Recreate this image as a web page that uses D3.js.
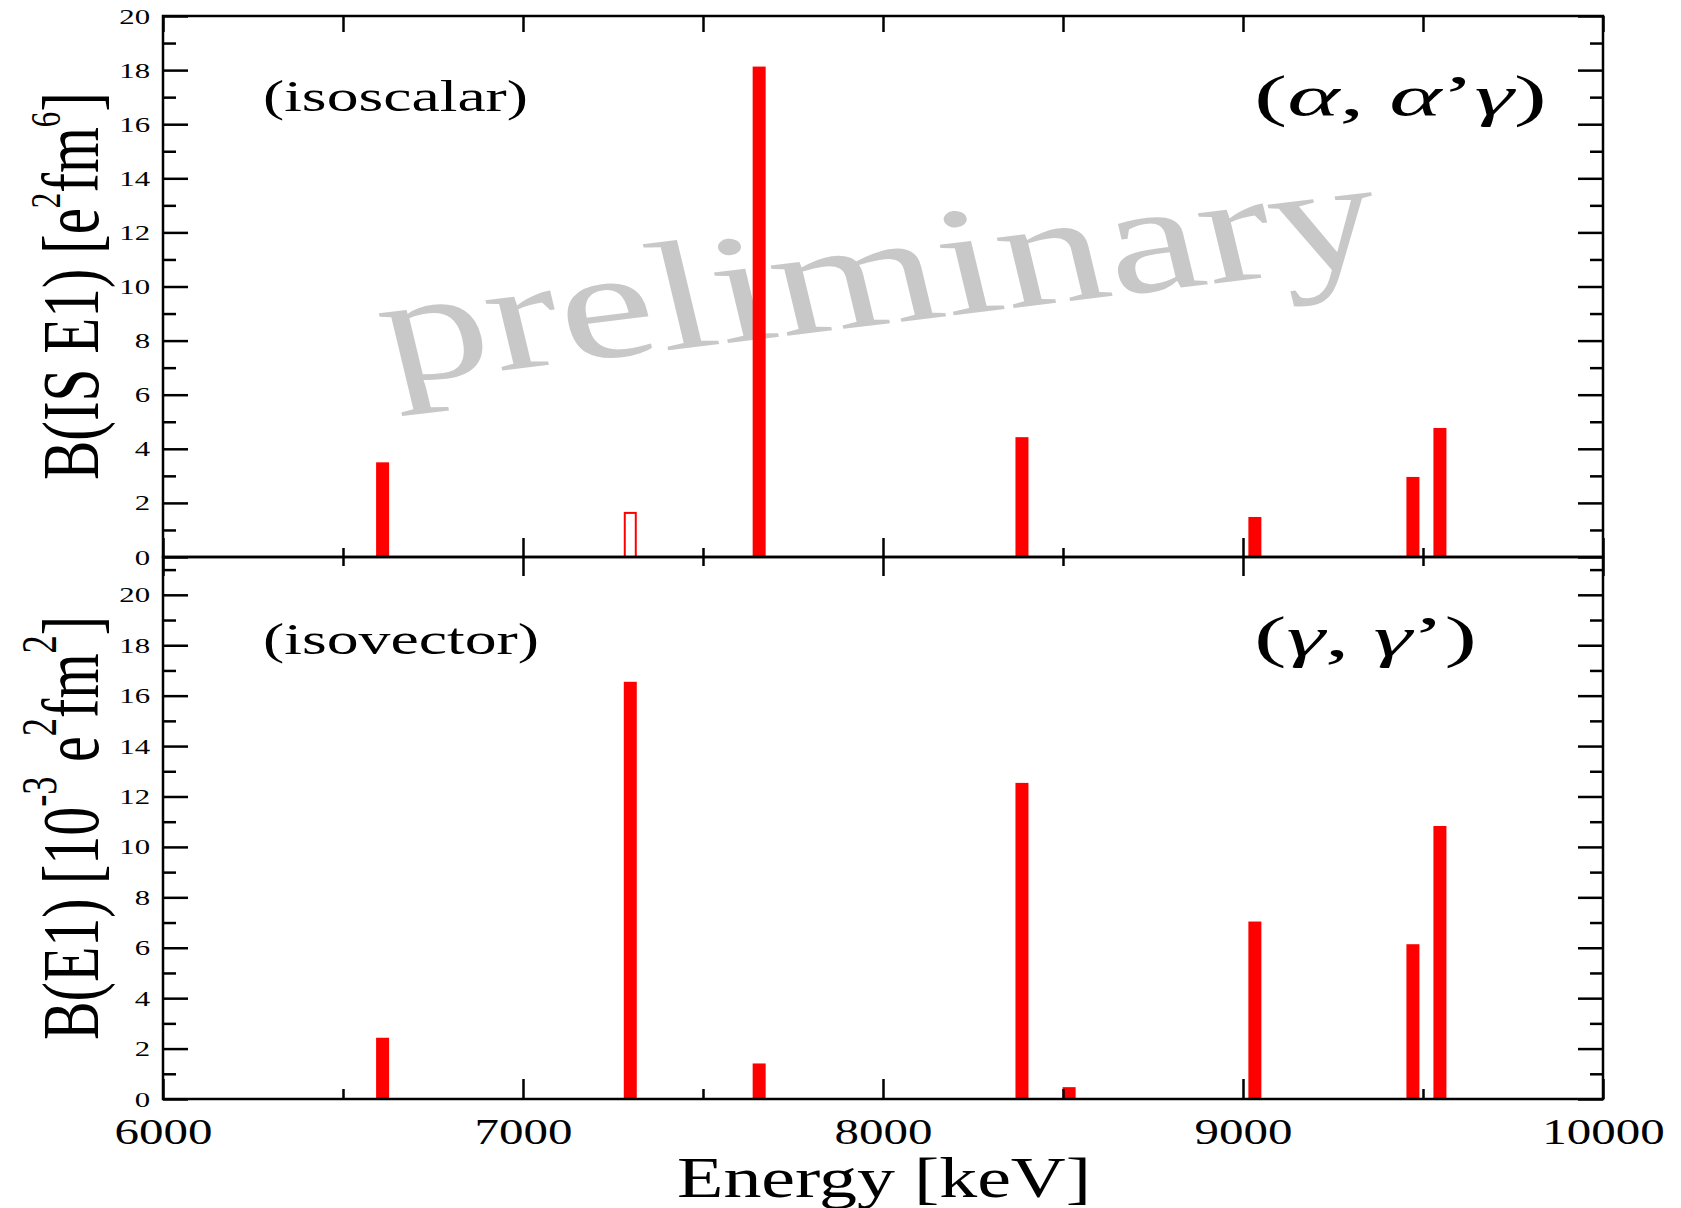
<!DOCTYPE html>
<html>
<head>
<meta charset="utf-8">
<script src="https://cdn.jsdelivr.net/npm/d3@7"></script>
<style>
  body { margin: 0; background: #fff; }
  svg { display: block; }
  text { font-family: "Liberation Serif", "Times New Roman", serif; fill: #000; }
</style>
</head>
<body>
<svg id="chart"></svg>
<script>
// level energies (keV) shared by both panels
const energies = [6610, 7298, 7656, 8386, 8517, 9033, 9472, 9547];
// B(IS E1) in e^2 fm^6 (null = not observed)
const isoscalarValues = [3.5, 1.63, 18.13, 4.43, null, 1.48, 2.96, 4.77];
// open bar = upper limit only
const isoscalarLimit = [false, true, false, false, false, false, false, false];
// B(E1) in 10^-3 e^2 fm^2
const isovectorValues = [2.43, 16.55, 1.41, 12.54, 0.47, 7.04, 6.14, 10.83];

const xMajorTicks = [6000, 7000, 8000, 9000, 10000];
const xMinorTicks = [6500, 7500, 8500, 9500];
const yMajorTicks = [0, 2, 4, 6, 8, 10, 12, 14, 16, 18, 20];
const yMinorTicks = [1, 3, 5, 7, 9, 11, 13, 15, 17, 19, 21];

const width = 1681;
const height = 1208;
const plotLeft = 163, plotRight = 1603, plotTop = 16, midY = 557, bottomY = 1099;
const stretch = 1.4;   // the original figure is stretched sideways
const barW = 13;
const red = '#ff0000';

const svg = d3.select('#chart')
    .attr('width', width)
    .attr('height', height);

const x = d3.scaleLinear().domain([6000, 10000]).range([plotLeft, plotRight]);
const yTop = d3.scaleLinear().domain([0, 20]).range([midY, plotTop]);
const yBot = d3.scaleLinear().domain([0, 21.5]).range([bottomY, midY]);

// watermark
svg.append('text')
    .attr('transform', `translate(391,384) scale(${stretch},1) rotate(-9.7)`)
    .attr('font-size', 155)
    .style('fill', '#c8c8c8')
    .text('preliminary');

function drawBars(yScale, values, limits) {
    const rows = energies
        .map((e, i) => ({ e: e, v: values[i], lim: limits ? limits[i] : false }))
        .filter((d) => d.v != null);

    const g = svg.append('g').attr('class', 'bars');
    g.selectAll('rect.solid')
        .data(rows.filter((d) => !d.lim))
        .enter()
        .append('rect')
        .attr('class', 'solid')
        .attr('x', (d) => x(d.e) - barW / 2)
        .attr('y', (d) => yScale(d.v))
        .attr('width', barW)
        .attr('height', (d) => yScale(0) - yScale(d.v))
        .style('fill', red);

    g.selectAll('rect.open')
        .data(rows.filter((d) => d.lim))
        .enter()
        .append('rect')
        .attr('class', 'open')
        .attr('x', (d) => x(d.e) - barW / 2 + 1)
        .attr('y', (d) => yScale(d.v))
        .attr('width', barW - 2)
        .attr('height', (d) => yScale(0) - yScale(d.v))
        .style('fill', 'none')
        .style('stroke', red)
        .style('stroke-width', 2);
}

drawBars(yTop, isoscalarValues, isoscalarLimit);
drawBars(yBot, isovectorValues, null);

function styleAxis(g) {
    g.select('.domain').remove();
    g.selectAll('line').attr('stroke', '#000').attr('stroke-width', 2.5);
}

function yAxes(yScale, major) {
    const minor = yMinorTicks.filter((v) => v <= yScale.domain()[1]);

    svg.append('g')
        .attr('transform', `translate(${plotLeft},0)`)
        .call(d3.axisLeft(yScale).tickValues(major).tickSizeInner(-25).tickSizeOuter(0).tickPadding(13))
        .call(styleAxis)
        .call((g) => g.selectAll('text')
            .attr('font-size', 22)
            .attr('x', -13 / stretch)
            .attr('transform', `scale(${stretch},1)`)
            .style('font-family', '"Liberation Serif", serif'));

    svg.append('g')
        .attr('transform', `translate(${plotLeft},0)`)
        .call(d3.axisLeft(yScale).tickValues(minor).tickSizeInner(-13).tickSizeOuter(0).tickFormat(''))
        .call(styleAxis);

    svg.append('g')
        .attr('transform', `translate(${plotRight},0)`)
        .call(d3.axisRight(yScale).tickValues(major).tickSizeInner(-25).tickSizeOuter(0).tickFormat(''))
        .call(styleAxis);

    svg.append('g')
        .attr('transform', `translate(${plotRight},0)`)
        .call(d3.axisRight(yScale).tickValues(minor).tickSizeInner(-13).tickSizeOuter(0).tickFormat(''))
        .call(styleAxis);
}

yAxes(yTop, yMajorTicks);
yAxes(yBot, yMajorTicks);

// top edge
svg.append('g')
    .attr('transform', `translate(0,${plotTop})`)
    .call(d3.axisTop(x).tickValues(xMajorTicks.concat(xMinorTicks)).tickSizeInner(-16).tickSizeOuter(0).tickFormat(''))
    .call(styleAxis);

// shared middle line: ticks up into the upper panel and down into the lower one
[[d3.axisBottom, xMajorTicks, -19], [d3.axisBottom, xMinorTicks, -9],
 [d3.axisTop, xMajorTicks, -19], [d3.axisTop, xMinorTicks, -9]].forEach(([ax, vals, size]) => {
    svg.append('g')
        .attr('transform', `translate(0,${midY})`)
        .call(ax(x).tickValues(vals).tickSizeInner(size).tickSizeOuter(0).tickFormat(''))
        .call(styleAxis);
});

// bottom axis with labels
svg.append('g')
    .attr('transform', `translate(0,${bottomY})`)
    .call(d3.axisBottom(x).tickValues(xMajorTicks).tickSizeInner(-20).tickSizeOuter(0).tickFormat(d3.format('d')))
    .call(styleAxis)
    .call((g) => g.selectAll('text')
        .attr('font-size', 35)
        .attr('y', 45)
        .attr('dy', 0)
        .attr('transform', `scale(${stretch},1)`)
        .style('font-family', '"Liberation Serif", serif'));

svg.append('g')
    .attr('transform', `translate(0,${bottomY})`)
    .call(d3.axisBottom(x).tickValues(xMinorTicks).tickSizeInner(-10).tickSizeOuter(0).tickFormat(''))
    .call(styleAxis);

// frames
[[plotTop, midY], [midY, bottomY]].forEach(([y0, y1]) => {
    svg.append('rect')
        .attr('x', plotLeft)
        .attr('y', y0)
        .attr('width', plotRight - plotLeft)
        .attr('height', y1 - y0)
        .style('fill', 'none')
        .style('stroke', '#000')
        .style('stroke-width', 2.5);
});

// x axis title
svg.append('text')
    .attr('x', 677)
    .attr('y', 1197)
    .attr('font-size', 56)
    .attr('textLength', 414)
    .attr('lengthAdjust', 'spacingAndGlyphs')
    .text('Energy [keV]');

// y axis titles (rotated, with superscripts)
function yTitle(startY, len, supSize, raise, parts) {
    const t = svg.append('text')
        .attr('transform', `translate(98,${startY}) scale(${stretch},1) rotate(-90)`)
        .attr('font-size', 57)
        .attr('textLength', len)
        .attr('lengthAdjust', 'spacingAndGlyphs');
    let raised = false;
    parts.forEach(([str, sup]) => {
        const ts = t.append('tspan').text(str);
        if (sup && !raised) { ts.attr('dy', -raise).attr('font-size', supSize); raised = true; }
        else if (sup) { ts.attr('font-size', supSize); }
        else if (raised) { ts.attr('dy', raise); raised = false; }
    });
}

yTitle(480, 388, 30, 27, [['B(IS E1) [e', false], ['2', true], ['fm', false], ['6', true], [']', false]]);
yTitle(1040, 424, 36, 30, [['B(E1) [10', false], ['-3', true], [' e', false], ['2', true], ['fm', false], ['2', true], [']', false]]);

// panel annotations
function note(xPos, yPos, size, len, parts) {
    const t = svg.append('text')
        .attr('x', xPos)
        .attr('y', yPos)
        .attr('font-size', size)
        .attr('textLength', len)
        .attr('lengthAdjust', 'spacingAndGlyphs');
    parts.forEach(([str, it]) => {
        t.append('tspan').style('font-style', it ? 'italic' : 'normal').text(str);
    });
}

note(263, 111, 45, 265, [['(isoscalar)', false]]);
note(263, 654, 45, 276, [['(isovector)', false]]);
note(1254, 115, 58, 293, [['(', false], ['α', true], [', ', false], ['α', true], ['’', false], ['γ', true], [')', false]]);
note(1254, 656, 58, 223, [['(', false], ['γ', true], [', ', false], ['γ', true], ['’', false], [')', false]]);
</script>
</body>
</html>
